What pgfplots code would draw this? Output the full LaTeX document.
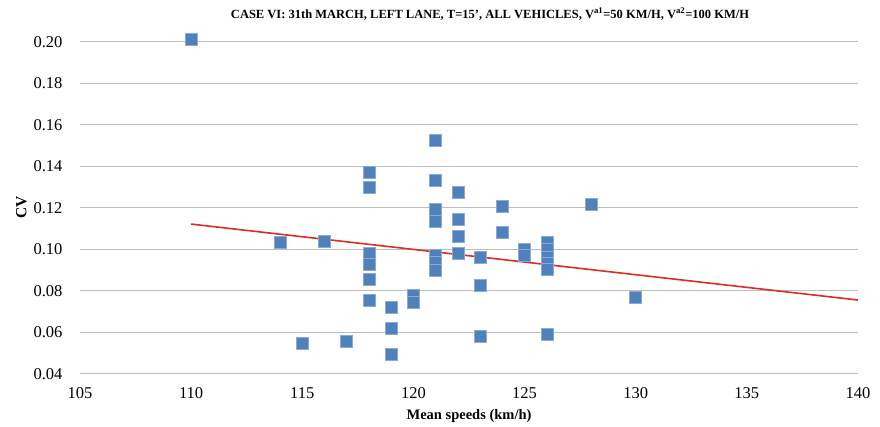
\documentclass[border=0pt]{standalone}
\usepackage{pgfplots}
\pgfplotsset{compat=1.18}
\usepackage{fontspec}
\setmainfont{Liberation Serif}
\definecolor{mblue}{RGB}{79,129,189}
\definecolor{mborder}{RGB}{140,170,210}
\definecolor{tred}{RGB}{220,45,30}
\definecolor{gridc}{RGB}{190,190,190}
\begin{document}
\begin{tikzpicture}
\path[use as bounding box] (0,0) rectangle (880pt,427pt);
\node[font=\bfseries\fontsize{12.5}{14}\selectfont] at (490pt,413pt)
  {CASE VI: 31th MARCH, LEFT LANE, T=15', ALL VEHICLES, V\textsuperscript{a1}=50 KM/H, V\textsuperscript{a2}=100 KM/H};
\begin{axis}[
  at={(80pt,53.3pt)}, anchor=south west,
  scale only axis, width=778pt, height=332pt,
  xmin=105, xmax=140, ymin=0.04, ymax=0.20,
  xtick={105,110,115,120,125,130,135,140},
  xticklabels={\rmfamily 105,\rmfamily 110,\rmfamily 115,\rmfamily 120,\rmfamily 125,\rmfamily 130,\rmfamily 135,\rmfamily 140},
  ytick={0.04,0.06,0.08,0.10,0.12,0.14,0.16,0.18,0.20},
  yticklabels={\rmfamily 0.04,\rmfamily 0.06,\rmfamily 0.08,\rmfamily 0.10,\rmfamily 0.12,\rmfamily 0.14,\rmfamily 0.16,\rmfamily 0.18,\rmfamily 0.20},
  axis line style={draw=none},
  ymajorgrids, grid style={gridc, line width=0.8pt},
  major tick length=0pt,
  tick label style={font=\rmfamily\fontsize{16.5}{18}\selectfont},
  yticklabel style={xshift=-14pt},
  xticklabel style={yshift=-10pt},
  xlabel={\textbf{Mean speeds (km/h)}},
  ylabel={\textbf{CV}},
  xlabel style={font=\fontsize{14.5}{16}\selectfont, yshift=-4pt},
  ylabel style={font=\fontsize{15.5}{17}\selectfont, yshift=0pt},
  clip=false,
]
\addplot[only marks, mark=square*, mark size=6pt,
  mark options={fill=mblue, draw=mborder, line width=0.6pt}] coordinates {
(110,0.201)
(114,0.1035)
(115,0.0545)
(116,0.104)
(117,0.0557)
(118,0.137)(118,0.130)(118,0.098)(118,0.0925)(118,0.0855)(118,0.0755)
(119,0.0722)(119,0.0617)(119,0.0494)
(120,0.0776)(120,0.0744)
(121,0.1525)(121,0.133)(121,0.1192)(121,0.1136)(121,0.0972)(121,0.0935)(121,0.090)
(122,0.1272)(122,0.1144)(122,0.1064)(122,0.098)
(123,0.096)(123,0.0824)(123,0.0582)
(124,0.1208)(124,0.1082)
(125,0.1000)(125,0.0972)
(126,0.1032)(126,0.0998)(126,0.0962)(126,0.0932)(126,0.0905)(126,0.0591)
(128,0.1216)
(130,0.0770)
};
\addplot[tred, line width=1.6pt] coordinates {(110,0.1121)(140,0.0755)};
\draw[gridc, line width=0.8pt] (axis cs:105,0.04) -- (axis cs:140,0.04);
\end{axis}
\end{tikzpicture}
\end{document}
